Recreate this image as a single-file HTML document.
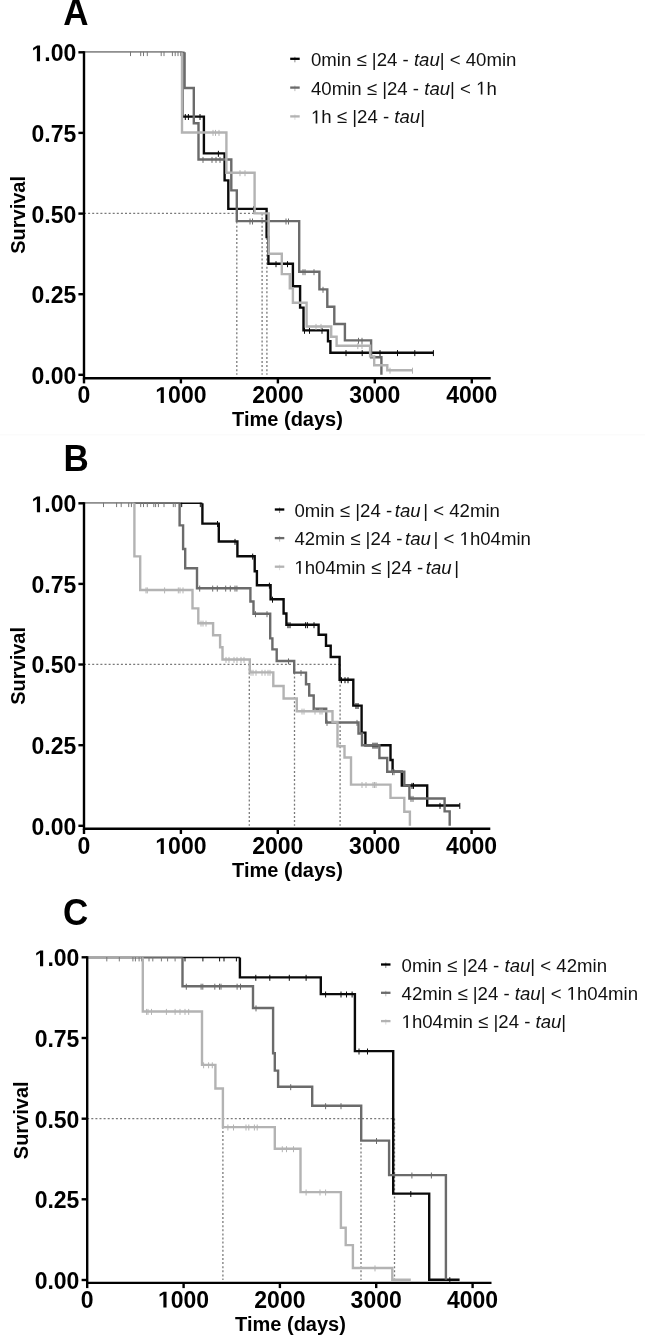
<!DOCTYPE html>
<html><head><meta charset="utf-8"><style>
html,body{margin:0;padding:0;background:#fff;}
body{width:645px;height:1341px;overflow:hidden;}
svg{display:block;filter:grayscale(1);}
.tl{font-family:"Liberation Sans",sans-serif;font-weight:bold;font-size:23px;fill:#000;}
.at{font-family:"Liberation Sans",sans-serif;font-weight:bold;font-size:20px;fill:#000;}
.pl{font-family:"Liberation Sans",sans-serif;font-weight:bold;font-size:35px;fill:#000;}
.lg{font-family:"Liberation Sans",sans-serif;font-size:18.6px;fill:#111;}
.lg tspan.i{font-style:italic;}
</style></head><body>
<svg width="645" height="1341" viewBox="0 0 645 1341">
<rect width="645" height="1341" fill="#fff"/>
<line x1="0" y1="434.8" x2="645" y2="434.8" stroke="#f9f9f9" stroke-width="1"/>
<line x1="84.0" y1="213.4" x2="267.5" y2="213.4" stroke="#7a7a7a" stroke-width="1.3" stroke-dasharray="2 2.1"/>
<line x1="236.8" y1="213.4" x2="236.8" y2="374.8" stroke="#7a7a7a" stroke-width="1.3" stroke-dasharray="2 2.1"/>
<line x1="262.1" y1="213.4" x2="262.1" y2="374.8" stroke="#7a7a7a" stroke-width="1.3" stroke-dasharray="2 2.1"/>
<line x1="266.9" y1="213.4" x2="266.9" y2="374.8" stroke="#7a7a7a" stroke-width="1.3" stroke-dasharray="2 2.1"/>
<line x1="84.0" y1="52.3" x2="182.3" y2="52.3" stroke="#0a0a0a" stroke-width="1.5"/>
<line x1="84.0" y1="52.3" x2="184.6" y2="52.3" stroke="#6b6b6b" stroke-width="1.5"/>
<line x1="84.0" y1="52.3" x2="182.0" y2="52.3" stroke="#a8a8a8" stroke-width="1.5"/>
<line x1="130.5" y1="51.7" x2="130.5" y2="56.1" stroke="#777" stroke-width="1.0"/>
<line x1="140.7" y1="51.7" x2="140.7" y2="56.1" stroke="#777" stroke-width="1.0"/>
<line x1="143.5" y1="51.7" x2="143.5" y2="56.1" stroke="#777" stroke-width="1.0"/>
<line x1="147.3" y1="51.7" x2="147.3" y2="56.1" stroke="#777" stroke-width="1.0"/>
<line x1="161.2" y1="51.7" x2="161.2" y2="56.1" stroke="#777" stroke-width="1.0"/>
<line x1="164.0" y1="51.7" x2="164.0" y2="56.1" stroke="#777" stroke-width="1.0"/>
<line x1="172.4" y1="51.7" x2="172.4" y2="56.1" stroke="#777" stroke-width="1.0"/>
<line x1="175.2" y1="51.7" x2="175.2" y2="56.1" stroke="#777" stroke-width="1.0"/>
<line x1="178.0" y1="51.7" x2="178.0" y2="56.1" stroke="#777" stroke-width="1.0"/>
<line x1="180.7" y1="51.7" x2="180.7" y2="56.1" stroke="#777" stroke-width="1.0"/>
<path d="M182.3 52.3V116.6H203.9V153.4H224.6V180.4H228.3V208.9H266.6V237.0H268.4V263.8H292.9V286.2H300.1V307.6H303.5V330.4H328.0V341.3H330.4V352.7H433.5V352.7" fill="none" stroke="#0a0a0a" stroke-width="2.4" stroke-linejoin="miter" stroke-linecap="butt"/>
<line x1="185.3" y1="114.0" x2="185.3" y2="120.0" stroke="#0a0a0a" stroke-width="1.0"/>
<line x1="188.4" y1="114.0" x2="188.4" y2="120.0" stroke="#0a0a0a" stroke-width="1.0"/>
<line x1="200.0" y1="114.0" x2="200.0" y2="120.0" stroke="#0a0a0a" stroke-width="1.0"/>
<line x1="218.4" y1="150.8" x2="218.4" y2="156.8" stroke="#0a0a0a" stroke-width="1.0"/>
<line x1="253.5" y1="206.3" x2="253.5" y2="212.3" stroke="#0a0a0a" stroke-width="1.0"/>
<line x1="276.0" y1="261.2" x2="276.0" y2="267.2" stroke="#0a0a0a" stroke-width="1.0"/>
<line x1="287.5" y1="261.2" x2="287.5" y2="267.2" stroke="#0a0a0a" stroke-width="1.0"/>
<line x1="304.5" y1="327.8" x2="304.5" y2="333.8" stroke="#0a0a0a" stroke-width="1.0"/>
<line x1="309.5" y1="327.8" x2="309.5" y2="333.8" stroke="#0a0a0a" stroke-width="1.0"/>
<line x1="322.0" y1="327.8" x2="322.0" y2="333.8" stroke="#0a0a0a" stroke-width="1.0"/>
<line x1="346.0" y1="350.1" x2="346.0" y2="356.1" stroke="#0a0a0a" stroke-width="1.0"/>
<line x1="362.2" y1="350.1" x2="362.2" y2="356.1" stroke="#0a0a0a" stroke-width="1.0"/>
<line x1="380.0" y1="350.1" x2="380.0" y2="356.1" stroke="#0a0a0a" stroke-width="1.0"/>
<line x1="397.5" y1="350.1" x2="397.5" y2="356.1" stroke="#0a0a0a" stroke-width="1.0"/>
<line x1="414.8" y1="350.1" x2="414.8" y2="356.1" stroke="#0a0a0a" stroke-width="1.0"/>
<line x1="433.4" y1="350.1" x2="433.4" y2="356.1" stroke="#0a0a0a" stroke-width="1.0"/>
<path d="M184.6 52.3V88.0H193.8V123.3H198.5V159.5H231.3V190.4H236.8V221.1H299.2V271.8H319.4V289.4H327.3V306.7H334.3V324.0H344.9V340.4H371.1V357.3H381.4V374.8" fill="none" stroke="#6b6b6b" stroke-width="2.4" stroke-linejoin="miter" stroke-linecap="butt"/>
<line x1="203.0" y1="156.9" x2="203.0" y2="162.9" stroke="#6b6b6b" stroke-width="1.0"/>
<line x1="212.0" y1="156.9" x2="212.0" y2="162.9" stroke="#6b6b6b" stroke-width="1.0"/>
<line x1="216.0" y1="156.9" x2="216.0" y2="162.9" stroke="#6b6b6b" stroke-width="1.0"/>
<line x1="220.0" y1="156.9" x2="220.0" y2="162.9" stroke="#6b6b6b" stroke-width="1.0"/>
<line x1="250.0" y1="218.5" x2="250.0" y2="224.5" stroke="#6b6b6b" stroke-width="1.0"/>
<line x1="252.5" y1="218.5" x2="252.5" y2="224.5" stroke="#6b6b6b" stroke-width="1.0"/>
<line x1="286.0" y1="218.5" x2="286.0" y2="224.5" stroke="#6b6b6b" stroke-width="1.0"/>
<line x1="288.5" y1="218.5" x2="288.5" y2="224.5" stroke="#6b6b6b" stroke-width="1.0"/>
<line x1="303.0" y1="269.2" x2="303.0" y2="275.2" stroke="#6b6b6b" stroke-width="1.0"/>
<line x1="305.0" y1="269.2" x2="305.0" y2="275.2" stroke="#6b6b6b" stroke-width="1.0"/>
<line x1="314.0" y1="269.2" x2="314.0" y2="275.2" stroke="#6b6b6b" stroke-width="1.0"/>
<line x1="323.0" y1="286.8" x2="323.0" y2="292.8" stroke="#6b6b6b" stroke-width="1.0"/>
<line x1="358.5" y1="337.8" x2="358.5" y2="343.8" stroke="#6b6b6b" stroke-width="1.0"/>
<line x1="362.0" y1="337.8" x2="362.0" y2="343.8" stroke="#6b6b6b" stroke-width="1.0"/>
<path d="M182.0 52.3V132.5H226.4V172.8H254.6V213.4H268.7V253.7H281.8V274.1H289.8V288.4H292.9V302.8H306.6V326.5H331.2V336.7H336.6V345.7H370.1V356.4H374.2V365.3H387.3V370.3H412.5V370.3" fill="none" stroke="#b3b3b3" stroke-width="2.4" stroke-linejoin="miter" stroke-linecap="butt"/>
<line x1="213.0" y1="129.9" x2="213.0" y2="135.9" stroke="#b3b3b3" stroke-width="1.0"/>
<line x1="215.5" y1="129.9" x2="215.5" y2="135.9" stroke="#b3b3b3" stroke-width="1.0"/>
<line x1="219.0" y1="129.9" x2="219.0" y2="135.9" stroke="#b3b3b3" stroke-width="1.0"/>
<line x1="240.0" y1="170.2" x2="240.0" y2="176.2" stroke="#b3b3b3" stroke-width="1.0"/>
<line x1="245.0" y1="170.2" x2="245.0" y2="176.2" stroke="#b3b3b3" stroke-width="1.0"/>
<line x1="316.0" y1="323.9" x2="316.0" y2="329.9" stroke="#b3b3b3" stroke-width="1.0"/>
<line x1="321.0" y1="323.9" x2="321.0" y2="329.9" stroke="#b3b3b3" stroke-width="1.0"/>
<line x1="357.8" y1="343.1" x2="357.8" y2="349.1" stroke="#b3b3b3" stroke-width="1.0"/>
<line x1="362.0" y1="343.1" x2="362.0" y2="349.1" stroke="#b3b3b3" stroke-width="1.0"/>
<line x1="390.0" y1="367.7" x2="390.0" y2="373.7" stroke="#b3b3b3" stroke-width="1.0"/>
<line x1="412.5" y1="367.7" x2="412.5" y2="373.7" stroke="#b3b3b3" stroke-width="1.0"/>
<path d="M84.0 51.3 V378.2 H490.7" fill="none" stroke="#000" stroke-width="2.4" stroke-linecap="butt" stroke-linejoin="miter"/>
<line x1="78.4" y1="374.8" x2="84.0" y2="374.8" stroke="#000" stroke-width="2.4"/>
<text x="76.3" y="383.7" class="tl" text-anchor="end">0.00</text>
<line x1="78.4" y1="294.2" x2="84.0" y2="294.2" stroke="#000" stroke-width="2.4"/>
<text x="76.3" y="303.1" class="tl" text-anchor="end">0.25</text>
<line x1="78.4" y1="213.6" x2="84.0" y2="213.6" stroke="#000" stroke-width="2.4"/>
<text x="76.3" y="222.5" class="tl" text-anchor="end">0.50</text>
<line x1="78.4" y1="132.9" x2="84.0" y2="132.9" stroke="#000" stroke-width="2.4"/>
<text x="76.3" y="141.8" class="tl" text-anchor="end">0.75</text>
<line x1="78.4" y1="52.3" x2="84.0" y2="52.3" stroke="#000" stroke-width="2.4"/>
<text x="76.3" y="61.2" class="tl" text-anchor="end"> .00</text>
<line x1="84.0" y1="378.2" x2="84.0" y2="383.4" stroke="#000" stroke-width="2.4"/>
<text x="84.0" y="403.1" class="tl" text-anchor="middle">0</text>
<line x1="180.9" y1="378.2" x2="180.9" y2="383.4" stroke="#000" stroke-width="2.4"/>
<text x="180.9" y="403.1" class="tl" text-anchor="middle"> 000</text>
<line x1="277.9" y1="378.2" x2="277.9" y2="383.4" stroke="#000" stroke-width="2.4"/>
<text x="277.9" y="403.1" class="tl" text-anchor="middle">2000</text>
<line x1="374.8" y1="378.2" x2="374.8" y2="383.4" stroke="#000" stroke-width="2.4"/>
<text x="374.8" y="403.1" class="tl" text-anchor="middle">3000</text>
<line x1="471.8" y1="378.2" x2="471.8" y2="383.4" stroke="#000" stroke-width="2.4"/>
<text x="471.8" y="403.1" class="tl" text-anchor="middle">4000</text>
<text x="287.5" y="425.5" class="at" text-anchor="middle">Time (days)</text>
<text class="at" text-anchor="middle" transform="translate(24.8 214.9) rotate(-90)">Survival</text>
<text class="pl" transform="translate(63.2 24.6) scale(1 1.07)">A</text>
<line x1="290.2" y1="58.8" x2="299.7" y2="58.8" stroke="#000" stroke-width="2.3"/>
<line x1="294.9" y1="56.8" x2="294.9" y2="62.3" stroke="#000" stroke-width="0.8" stroke-opacity="0.6"/>
<text x="311.0" y="65.8" class="lg">0min ≤ |24 - <tspan class="i">tau</tspan>| &lt; 40min</text>
<line x1="290.2" y1="87.6" x2="299.7" y2="87.6" stroke="#6b6b6b" stroke-width="2.3"/>
<line x1="294.9" y1="85.6" x2="294.9" y2="91.1" stroke="#6b6b6b" stroke-width="0.8" stroke-opacity="0.6"/>
<text x="311.0" y="94.6" class="lg">40min ≤ |24 - <tspan class="i">tau</tspan>| &lt;  h</text>
<line x1="290.2" y1="116.4" x2="299.7" y2="116.4" stroke="#b3b3b3" stroke-width="2.3"/>
<line x1="294.9" y1="114.4" x2="294.9" y2="119.9" stroke="#b3b3b3" stroke-width="0.8" stroke-opacity="0.6"/>
<text x="311.0" y="123.4" class="lg"> h ≤ |24 - <tspan class="i">tau</tspan>|</text>
<line x1="84.0" y1="664.3" x2="340.6" y2="664.3" stroke="#7a7a7a" stroke-width="1.3" stroke-dasharray="2 2.1"/>
<line x1="249.3" y1="664.3" x2="249.3" y2="825.8" stroke="#7a7a7a" stroke-width="1.3" stroke-dasharray="2 2.1"/>
<line x1="294.5" y1="664.3" x2="294.5" y2="825.8" stroke="#7a7a7a" stroke-width="1.3" stroke-dasharray="2 2.1"/>
<line x1="340.1" y1="664.3" x2="340.1" y2="825.8" stroke="#7a7a7a" stroke-width="1.3" stroke-dasharray="2 2.1"/>
<line x1="84.0" y1="503.3" x2="202.4" y2="503.3" stroke="#0a0a0a" stroke-width="1.5"/>
<line x1="84.0" y1="503.3" x2="179.6" y2="503.3" stroke="#6b6b6b" stroke-width="1.5"/>
<line x1="84.0" y1="503.3" x2="134.4" y2="503.3" stroke="#a8a8a8" stroke-width="1.5"/>
<line x1="103.5" y1="502.7" x2="103.5" y2="507.1" stroke="#777" stroke-width="1.0"/>
<line x1="116.6" y1="502.7" x2="116.6" y2="507.1" stroke="#777" stroke-width="1.0"/>
<line x1="121.2" y1="502.7" x2="121.2" y2="507.1" stroke="#777" stroke-width="1.0"/>
<line x1="128.7" y1="502.7" x2="128.7" y2="507.1" stroke="#777" stroke-width="1.0"/>
<line x1="131.4" y1="502.7" x2="131.4" y2="507.1" stroke="#777" stroke-width="1.0"/>
<line x1="140.7" y1="502.7" x2="140.7" y2="507.1" stroke="#777" stroke-width="1.0"/>
<line x1="143.5" y1="502.7" x2="143.5" y2="507.1" stroke="#777" stroke-width="1.0"/>
<line x1="147.3" y1="502.7" x2="147.3" y2="507.1" stroke="#777" stroke-width="1.0"/>
<line x1="153.8" y1="502.7" x2="153.8" y2="507.1" stroke="#777" stroke-width="1.0"/>
<line x1="155.6" y1="502.7" x2="155.6" y2="507.1" stroke="#777" stroke-width="1.0"/>
<line x1="158.4" y1="502.7" x2="158.4" y2="507.1" stroke="#777" stroke-width="1.0"/>
<line x1="164.0" y1="502.7" x2="164.0" y2="507.1" stroke="#777" stroke-width="1.0"/>
<line x1="173.3" y1="502.7" x2="173.3" y2="507.1" stroke="#777" stroke-width="1.0"/>
<line x1="175.2" y1="502.7" x2="175.2" y2="507.1" stroke="#777" stroke-width="1.0"/>
<line x1="181.7" y1="502.7" x2="181.7" y2="507.1" stroke="#0a0a0a" stroke-width="1.0"/>
<line x1="200.3" y1="502.7" x2="200.3" y2="507.1" stroke="#0a0a0a" stroke-width="1.0"/>
<path d="M202.4 503.3V523.6H218.8V541.5H237.4V556.2H254.7V571.2H256.9V585.3H270.6V599.3H283.6V613.5H286.4V624.8H318.6V634.7H326.0V645.8H330.7V657.0H339.6V679.8H353.3V705.6H361.6V732.6H365.4V745.3H390.5V760.0H392.6V771.8H401.8V785.5H427.2V805.5H459.8V805.5" fill="none" stroke="#0a0a0a" stroke-width="2.4" stroke-linejoin="miter" stroke-linecap="butt"/>
<line x1="217.5" y1="521.0" x2="217.5" y2="527.0" stroke="#0a0a0a" stroke-width="1.0"/>
<line x1="235.0" y1="538.9" x2="235.0" y2="544.9" stroke="#0a0a0a" stroke-width="1.0"/>
<line x1="252.7" y1="553.6" x2="252.7" y2="559.6" stroke="#0a0a0a" stroke-width="1.0"/>
<line x1="269.4" y1="582.7" x2="269.4" y2="588.7" stroke="#0a0a0a" stroke-width="1.0"/>
<line x1="272.5" y1="596.7" x2="272.5" y2="602.7" stroke="#0a0a0a" stroke-width="1.0"/>
<line x1="288.0" y1="622.2" x2="288.0" y2="628.2" stroke="#0a0a0a" stroke-width="1.0"/>
<line x1="290.0" y1="622.2" x2="290.0" y2="628.2" stroke="#0a0a0a" stroke-width="1.0"/>
<line x1="305.6" y1="622.2" x2="305.6" y2="628.2" stroke="#0a0a0a" stroke-width="1.0"/>
<line x1="307.4" y1="622.2" x2="307.4" y2="628.2" stroke="#0a0a0a" stroke-width="1.0"/>
<line x1="314.0" y1="622.2" x2="314.0" y2="628.2" stroke="#0a0a0a" stroke-width="1.0"/>
<line x1="341.5" y1="677.2" x2="341.5" y2="683.2" stroke="#0a0a0a" stroke-width="1.0"/>
<line x1="345.0" y1="677.2" x2="345.0" y2="683.2" stroke="#0a0a0a" stroke-width="1.0"/>
<line x1="348.0" y1="677.2" x2="348.0" y2="683.2" stroke="#0a0a0a" stroke-width="1.0"/>
<line x1="356.0" y1="703.0" x2="356.0" y2="709.0" stroke="#0a0a0a" stroke-width="1.0"/>
<line x1="358.0" y1="703.0" x2="358.0" y2="709.0" stroke="#0a0a0a" stroke-width="1.0"/>
<line x1="373.0" y1="742.7" x2="373.0" y2="748.7" stroke="#0a0a0a" stroke-width="1.0"/>
<line x1="375.0" y1="742.7" x2="375.0" y2="748.7" stroke="#0a0a0a" stroke-width="1.0"/>
<line x1="377.0" y1="742.7" x2="377.0" y2="748.7" stroke="#0a0a0a" stroke-width="1.0"/>
<line x1="412.0" y1="782.9" x2="412.0" y2="788.9" stroke="#0a0a0a" stroke-width="1.0"/>
<line x1="413.5" y1="782.9" x2="413.5" y2="788.9" stroke="#0a0a0a" stroke-width="1.0"/>
<line x1="440.0" y1="802.9" x2="440.0" y2="808.9" stroke="#0a0a0a" stroke-width="1.0"/>
<line x1="459.8" y1="802.9" x2="459.8" y2="808.9" stroke="#0a0a0a" stroke-width="1.0"/>
<path d="M179.6 503.3V525.4H183.1V549.0H185.2V568.2H197.0V588.2H250.4V601.5H253.5V613.8H270.2V638.4H272.4V649.4H276.7V661.0H294.2V672.6H306.0V684.2H309.2V695.5H313.7V708.7H326.2V722.5H358.5V733.5H362.0V745.3H379.4V758.0H387.2V771.8H404.3V785.5H409.4V798.5H444.6V811.4H449.7V825.8" fill="none" stroke="#6b6b6b" stroke-width="2.4" stroke-linejoin="miter" stroke-linecap="butt"/>
<line x1="199.7" y1="585.6" x2="199.7" y2="591.6" stroke="#6b6b6b" stroke-width="1.0"/>
<line x1="212.7" y1="585.6" x2="212.7" y2="591.6" stroke="#6b6b6b" stroke-width="1.0"/>
<line x1="217.3" y1="585.6" x2="217.3" y2="591.6" stroke="#6b6b6b" stroke-width="1.0"/>
<line x1="225.7" y1="585.6" x2="225.7" y2="591.6" stroke="#6b6b6b" stroke-width="1.0"/>
<line x1="230.3" y1="585.6" x2="230.3" y2="591.6" stroke="#6b6b6b" stroke-width="1.0"/>
<line x1="235.0" y1="585.6" x2="235.0" y2="591.6" stroke="#6b6b6b" stroke-width="1.0"/>
<line x1="236.9" y1="585.6" x2="236.9" y2="591.6" stroke="#6b6b6b" stroke-width="1.0"/>
<line x1="255.5" y1="611.2" x2="255.5" y2="617.2" stroke="#6b6b6b" stroke-width="1.0"/>
<line x1="267.0" y1="611.2" x2="267.0" y2="617.2" stroke="#6b6b6b" stroke-width="1.0"/>
<line x1="288.5" y1="658.4" x2="288.5" y2="664.4" stroke="#6b6b6b" stroke-width="1.0"/>
<line x1="301.0" y1="670.0" x2="301.0" y2="676.0" stroke="#6b6b6b" stroke-width="1.0"/>
<line x1="327.0" y1="719.9" x2="327.0" y2="725.9" stroke="#6b6b6b" stroke-width="1.0"/>
<line x1="357.0" y1="719.9" x2="357.0" y2="725.9" stroke="#6b6b6b" stroke-width="1.0"/>
<line x1="392.5" y1="769.2" x2="392.5" y2="775.2" stroke="#6b6b6b" stroke-width="1.0"/>
<line x1="394.0" y1="769.2" x2="394.0" y2="775.2" stroke="#6b6b6b" stroke-width="1.0"/>
<line x1="411.0" y1="795.9" x2="411.0" y2="801.9" stroke="#6b6b6b" stroke-width="1.0"/>
<line x1="413.0" y1="795.9" x2="413.0" y2="801.9" stroke="#6b6b6b" stroke-width="1.0"/>
<path d="M134.4 503.3V556.4H140.2V590.0H192.5V608.4H198.3V623.2H213.1V635.3H220.1V647.2H222.5V659.5H249.8V672.4H273.3V686.0H283.6V698.5H296.8V711.2H332.5V722.0H337.5V746.2H344.5V757.5H351.0V784.6H390.5V797.9H404.3V811.7H409.9V825.8" fill="none" stroke="#b3b3b3" stroke-width="2.4" stroke-linejoin="miter" stroke-linecap="butt"/>
<line x1="146.0" y1="587.4" x2="146.0" y2="593.4" stroke="#b3b3b3" stroke-width="1.0"/>
<line x1="147.3" y1="587.4" x2="147.3" y2="593.4" stroke="#b3b3b3" stroke-width="1.0"/>
<line x1="164.6" y1="587.4" x2="164.6" y2="593.4" stroke="#b3b3b3" stroke-width="1.0"/>
<line x1="178.3" y1="587.4" x2="178.3" y2="593.4" stroke="#b3b3b3" stroke-width="1.0"/>
<line x1="180.0" y1="587.4" x2="180.0" y2="593.4" stroke="#b3b3b3" stroke-width="1.0"/>
<line x1="183.0" y1="587.4" x2="183.0" y2="593.4" stroke="#b3b3b3" stroke-width="1.0"/>
<line x1="201.0" y1="620.6" x2="201.0" y2="626.6" stroke="#b3b3b3" stroke-width="1.0"/>
<line x1="203.0" y1="620.6" x2="203.0" y2="626.6" stroke="#b3b3b3" stroke-width="1.0"/>
<line x1="206.0" y1="620.6" x2="206.0" y2="626.6" stroke="#b3b3b3" stroke-width="1.0"/>
<line x1="226.0" y1="656.9" x2="226.0" y2="662.9" stroke="#b3b3b3" stroke-width="1.0"/>
<line x1="229.0" y1="656.9" x2="229.0" y2="662.9" stroke="#b3b3b3" stroke-width="1.0"/>
<line x1="234.0" y1="656.9" x2="234.0" y2="662.9" stroke="#b3b3b3" stroke-width="1.0"/>
<line x1="237.0" y1="656.9" x2="237.0" y2="662.9" stroke="#b3b3b3" stroke-width="1.0"/>
<line x1="241.0" y1="656.9" x2="241.0" y2="662.9" stroke="#b3b3b3" stroke-width="1.0"/>
<line x1="244.0" y1="656.9" x2="244.0" y2="662.9" stroke="#b3b3b3" stroke-width="1.0"/>
<line x1="251.0" y1="669.8" x2="251.0" y2="675.8" stroke="#b3b3b3" stroke-width="1.0"/>
<line x1="253.0" y1="669.8" x2="253.0" y2="675.8" stroke="#b3b3b3" stroke-width="1.0"/>
<line x1="256.0" y1="669.8" x2="256.0" y2="675.8" stroke="#b3b3b3" stroke-width="1.0"/>
<line x1="262.0" y1="669.8" x2="262.0" y2="675.8" stroke="#b3b3b3" stroke-width="1.0"/>
<line x1="265.0" y1="669.8" x2="265.0" y2="675.8" stroke="#b3b3b3" stroke-width="1.0"/>
<line x1="268.0" y1="669.8" x2="268.0" y2="675.8" stroke="#b3b3b3" stroke-width="1.0"/>
<line x1="270.0" y1="669.8" x2="270.0" y2="675.8" stroke="#b3b3b3" stroke-width="1.0"/>
<line x1="302.0" y1="708.6" x2="302.0" y2="714.6" stroke="#b3b3b3" stroke-width="1.0"/>
<line x1="304.0" y1="708.6" x2="304.0" y2="714.6" stroke="#b3b3b3" stroke-width="1.0"/>
<line x1="315.0" y1="708.6" x2="315.0" y2="714.6" stroke="#b3b3b3" stroke-width="1.0"/>
<line x1="320.0" y1="708.6" x2="320.0" y2="714.6" stroke="#b3b3b3" stroke-width="1.0"/>
<line x1="322.0" y1="708.6" x2="322.0" y2="714.6" stroke="#b3b3b3" stroke-width="1.0"/>
<line x1="362.0" y1="782.0" x2="362.0" y2="788.0" stroke="#b3b3b3" stroke-width="1.0"/>
<line x1="366.0" y1="782.0" x2="366.0" y2="788.0" stroke="#b3b3b3" stroke-width="1.0"/>
<line x1="373.0" y1="782.0" x2="373.0" y2="788.0" stroke="#b3b3b3" stroke-width="1.0"/>
<line x1="374.5" y1="782.0" x2="374.5" y2="788.0" stroke="#b3b3b3" stroke-width="1.0"/>
<line x1="376.0" y1="782.0" x2="376.0" y2="788.0" stroke="#b3b3b3" stroke-width="1.0"/>
<path d="M84.0 502.3 V828.8 H490.3" fill="none" stroke="#000" stroke-width="2.4" stroke-linecap="butt" stroke-linejoin="miter"/>
<line x1="78.4" y1="825.8" x2="84.0" y2="825.8" stroke="#000" stroke-width="2.4"/>
<text x="76.3" y="834.7" class="tl" text-anchor="end">0.00</text>
<line x1="78.4" y1="745.2" x2="84.0" y2="745.2" stroke="#000" stroke-width="2.4"/>
<text x="76.3" y="754.1" class="tl" text-anchor="end">0.25</text>
<line x1="78.4" y1="664.5" x2="84.0" y2="664.5" stroke="#000" stroke-width="2.4"/>
<text x="76.3" y="673.4" class="tl" text-anchor="end">0.50</text>
<line x1="78.4" y1="583.9" x2="84.0" y2="583.9" stroke="#000" stroke-width="2.4"/>
<text x="76.3" y="592.8" class="tl" text-anchor="end">0.75</text>
<line x1="78.4" y1="503.3" x2="84.0" y2="503.3" stroke="#000" stroke-width="2.4"/>
<text x="76.3" y="512.2" class="tl" text-anchor="end"> .00</text>
<line x1="84.0" y1="828.8" x2="84.0" y2="834.0" stroke="#000" stroke-width="2.4"/>
<text x="84.0" y="854.1" class="tl" text-anchor="middle">0</text>
<line x1="180.9" y1="828.8" x2="180.9" y2="834.0" stroke="#000" stroke-width="2.4"/>
<text x="180.9" y="854.1" class="tl" text-anchor="middle"> 000</text>
<line x1="277.8" y1="828.8" x2="277.8" y2="834.0" stroke="#000" stroke-width="2.4"/>
<text x="277.8" y="854.1" class="tl" text-anchor="middle">2000</text>
<line x1="374.7" y1="828.8" x2="374.7" y2="834.0" stroke="#000" stroke-width="2.4"/>
<text x="374.7" y="854.1" class="tl" text-anchor="middle">3000</text>
<line x1="471.6" y1="828.8" x2="471.6" y2="834.0" stroke="#000" stroke-width="2.4"/>
<text x="471.6" y="854.1" class="tl" text-anchor="middle">4000</text>
<text x="287.5" y="876.5" class="at" text-anchor="middle">Time (days)</text>
<text class="at" text-anchor="middle" transform="translate(24.8 665.9) rotate(-90)">Survival</text>
<text class="pl" transform="translate(63.6 470.8) scale(1 1.07)">B</text>
<line x1="274.8" y1="509.5" x2="284.3" y2="509.5" stroke="#000" stroke-width="2.3"/>
<line x1="279.6" y1="507.5" x2="279.6" y2="513.0" stroke="#000" stroke-width="0.8" stroke-opacity="0.6"/>
<text x="294.4" y="516.5" class="lg">0min ≤ |24 -<tspan class="i" dx="2.6">tau</tspan><tspan dx="2.6">|</tspan> &lt; 42min</text>
<line x1="274.8" y1="538.1" x2="284.3" y2="538.1" stroke="#6b6b6b" stroke-width="2.3"/>
<line x1="279.6" y1="536.1" x2="279.6" y2="541.6" stroke="#6b6b6b" stroke-width="0.8" stroke-opacity="0.6"/>
<text x="294.4" y="545.1" class="lg">42min ≤ |24 -<tspan class="i" dx="2.6">tau</tspan><tspan dx="2.6">|</tspan> &lt;  h04min</text>
<line x1="274.8" y1="566.7" x2="284.3" y2="566.7" stroke="#b3b3b3" stroke-width="2.3"/>
<line x1="279.6" y1="564.7" x2="279.6" y2="570.2" stroke="#b3b3b3" stroke-width="0.8" stroke-opacity="0.6"/>
<text x="294.4" y="573.7" class="lg"> h04min ≤ |24 -<tspan class="i" dx="2.6">tau</tspan><tspan dx="2.6">|</tspan></text>
<line x1="87.2" y1="1118.6" x2="395.0" y2="1118.6" stroke="#7a7a7a" stroke-width="1.3" stroke-dasharray="2 2.1"/>
<line x1="222.9" y1="1118.6" x2="222.9" y2="1280.0" stroke="#7a7a7a" stroke-width="1.3" stroke-dasharray="2 2.1"/>
<line x1="361.0" y1="1118.6" x2="361.0" y2="1280.0" stroke="#7a7a7a" stroke-width="1.3" stroke-dasharray="2 2.1"/>
<line x1="394.5" y1="1118.6" x2="394.5" y2="1280.0" stroke="#7a7a7a" stroke-width="1.3" stroke-dasharray="2 2.1"/>
<line x1="87.2" y1="957.6" x2="239.9" y2="957.6" stroke="#0a0a0a" stroke-width="1.5"/>
<line x1="87.2" y1="957.6" x2="182.5" y2="957.6" stroke="#6b6b6b" stroke-width="1.5"/>
<line x1="87.2" y1="957.6" x2="142.8" y2="957.6" stroke="#a8a8a8" stroke-width="1.5"/>
<line x1="106.8" y1="957.0" x2="106.8" y2="961.4" stroke="#777" stroke-width="1.0"/>
<line x1="119.3" y1="957.0" x2="119.3" y2="961.4" stroke="#777" stroke-width="1.0"/>
<line x1="132.9" y1="957.0" x2="132.9" y2="961.4" stroke="#777" stroke-width="1.0"/>
<line x1="135.4" y1="957.0" x2="135.4" y2="961.4" stroke="#777" stroke-width="1.0"/>
<line x1="139.1" y1="957.0" x2="139.1" y2="961.4" stroke="#777" stroke-width="1.0"/>
<line x1="141.6" y1="957.0" x2="141.6" y2="961.4" stroke="#777" stroke-width="1.0"/>
<line x1="149.0" y1="957.0" x2="149.0" y2="961.4" stroke="#777" stroke-width="1.0"/>
<line x1="152.8" y1="957.0" x2="152.8" y2="961.4" stroke="#777" stroke-width="1.0"/>
<line x1="161.4" y1="957.0" x2="161.4" y2="961.4" stroke="#777" stroke-width="1.0"/>
<line x1="167.6" y1="957.0" x2="167.6" y2="961.4" stroke="#777" stroke-width="1.0"/>
<line x1="175.1" y1="957.0" x2="175.1" y2="961.4" stroke="#777" stroke-width="1.0"/>
<line x1="185.0" y1="957.0" x2="185.0" y2="961.4" stroke="#0a0a0a" stroke-width="1.0"/>
<line x1="202.9" y1="957.0" x2="202.9" y2="961.4" stroke="#0a0a0a" stroke-width="1.0"/>
<line x1="219.6" y1="957.0" x2="219.6" y2="961.4" stroke="#0a0a0a" stroke-width="1.0"/>
<line x1="224.0" y1="957.0" x2="224.0" y2="961.4" stroke="#0a0a0a" stroke-width="1.0"/>
<line x1="236.4" y1="957.0" x2="236.4" y2="961.4" stroke="#0a0a0a" stroke-width="1.0"/>
<path d="M239.9 957.6V977.4H320.8V994.1H354.9V1051.1H393.2V1193.6H429.2V1279.8H459.6V1279.8" fill="none" stroke="#0a0a0a" stroke-width="2.4" stroke-linejoin="miter" stroke-linecap="butt"/>
<line x1="255.8" y1="974.8" x2="255.8" y2="980.8" stroke="#0a0a0a" stroke-width="1.0"/>
<line x1="269.8" y1="974.8" x2="269.8" y2="980.8" stroke="#0a0a0a" stroke-width="1.0"/>
<line x1="289.3" y1="974.8" x2="289.3" y2="980.8" stroke="#0a0a0a" stroke-width="1.0"/>
<line x1="306.1" y1="974.8" x2="306.1" y2="980.8" stroke="#0a0a0a" stroke-width="1.0"/>
<line x1="325.6" y1="991.5" x2="325.6" y2="997.5" stroke="#0a0a0a" stroke-width="1.0"/>
<line x1="341.0" y1="991.5" x2="341.0" y2="997.5" stroke="#0a0a0a" stroke-width="1.0"/>
<line x1="346.5" y1="991.5" x2="346.5" y2="997.5" stroke="#0a0a0a" stroke-width="1.0"/>
<line x1="352.1" y1="991.5" x2="352.1" y2="997.5" stroke="#0a0a0a" stroke-width="1.0"/>
<line x1="359.0" y1="1048.5" x2="359.0" y2="1054.5" stroke="#0a0a0a" stroke-width="1.0"/>
<line x1="367.5" y1="1048.5" x2="367.5" y2="1054.5" stroke="#0a0a0a" stroke-width="1.0"/>
<line x1="410.8" y1="1191.0" x2="410.8" y2="1197.0" stroke="#0a0a0a" stroke-width="1.0"/>
<line x1="449.8" y1="1277.2" x2="449.8" y2="1283.2" stroke="#0a0a0a" stroke-width="1.0"/>
<path d="M182.5 957.6V986.3H253.0V1008.0H273.1V1053.3H274.8V1070.6H278.1V1086.8H312.2V1105.8H361.2V1140.6H389.1V1175.1H445.9V1279.8" fill="none" stroke="#6b6b6b" stroke-width="2.4" stroke-linejoin="miter" stroke-linecap="butt"/>
<line x1="186.3" y1="983.7" x2="186.3" y2="989.7" stroke="#6b6b6b" stroke-width="1.0"/>
<line x1="201.1" y1="983.7" x2="201.1" y2="989.7" stroke="#6b6b6b" stroke-width="1.0"/>
<line x1="202.8" y1="983.7" x2="202.8" y2="989.7" stroke="#6b6b6b" stroke-width="1.0"/>
<line x1="214.8" y1="983.7" x2="214.8" y2="989.7" stroke="#6b6b6b" stroke-width="1.0"/>
<line x1="219.5" y1="983.7" x2="219.5" y2="989.7" stroke="#6b6b6b" stroke-width="1.0"/>
<line x1="221.0" y1="983.7" x2="221.0" y2="989.7" stroke="#6b6b6b" stroke-width="1.0"/>
<line x1="237.1" y1="983.7" x2="237.1" y2="989.7" stroke="#6b6b6b" stroke-width="1.0"/>
<line x1="240.5" y1="983.7" x2="240.5" y2="989.7" stroke="#6b6b6b" stroke-width="1.0"/>
<line x1="256.0" y1="1005.4" x2="256.0" y2="1011.4" stroke="#6b6b6b" stroke-width="1.0"/>
<line x1="290.7" y1="1084.2" x2="290.7" y2="1090.2" stroke="#6b6b6b" stroke-width="1.0"/>
<line x1="325.6" y1="1103.2" x2="325.6" y2="1109.2" stroke="#6b6b6b" stroke-width="1.0"/>
<line x1="341.0" y1="1103.2" x2="341.0" y2="1109.2" stroke="#6b6b6b" stroke-width="1.0"/>
<line x1="376.5" y1="1138.0" x2="376.5" y2="1144.0" stroke="#6b6b6b" stroke-width="1.0"/>
<line x1="411.9" y1="1172.5" x2="411.9" y2="1178.5" stroke="#6b6b6b" stroke-width="1.0"/>
<line x1="431.4" y1="1172.5" x2="431.4" y2="1178.5" stroke="#6b6b6b" stroke-width="1.0"/>
<path d="M142.8 957.6V1011.5H202.0V1064.9H215.4V1088.5H222.9V1127.1H274.8V1148.8H300.5V1192.1H340.9V1227.8H345.7V1245.1H352.9V1268.0H392.3V1279.8H410.8V1279.8" fill="none" stroke="#b3b3b3" stroke-width="2.4" stroke-linejoin="miter" stroke-linecap="butt"/>
<line x1="146.6" y1="1008.9" x2="146.6" y2="1014.9" stroke="#b3b3b3" stroke-width="1.0"/>
<line x1="148.0" y1="1008.9" x2="148.0" y2="1014.9" stroke="#b3b3b3" stroke-width="1.0"/>
<line x1="151.5" y1="1008.9" x2="151.5" y2="1014.9" stroke="#b3b3b3" stroke-width="1.0"/>
<line x1="166.4" y1="1008.9" x2="166.4" y2="1014.9" stroke="#b3b3b3" stroke-width="1.0"/>
<line x1="175.1" y1="1008.9" x2="175.1" y2="1014.9" stroke="#b3b3b3" stroke-width="1.0"/>
<line x1="180.0" y1="1008.9" x2="180.0" y2="1014.9" stroke="#b3b3b3" stroke-width="1.0"/>
<line x1="185.0" y1="1008.9" x2="185.0" y2="1014.9" stroke="#b3b3b3" stroke-width="1.0"/>
<line x1="188.7" y1="1008.9" x2="188.7" y2="1014.9" stroke="#b3b3b3" stroke-width="1.0"/>
<line x1="203.6" y1="1062.3" x2="203.6" y2="1068.3" stroke="#b3b3b3" stroke-width="1.0"/>
<line x1="208.6" y1="1062.3" x2="208.6" y2="1068.3" stroke="#b3b3b3" stroke-width="1.0"/>
<line x1="212.3" y1="1062.3" x2="212.3" y2="1068.3" stroke="#b3b3b3" stroke-width="1.0"/>
<line x1="227.9" y1="1124.5" x2="227.9" y2="1130.5" stroke="#b3b3b3" stroke-width="1.0"/>
<line x1="233.5" y1="1124.5" x2="233.5" y2="1130.5" stroke="#b3b3b3" stroke-width="1.0"/>
<line x1="246.0" y1="1124.5" x2="246.0" y2="1130.5" stroke="#b3b3b3" stroke-width="1.0"/>
<line x1="248.8" y1="1124.5" x2="248.8" y2="1130.5" stroke="#b3b3b3" stroke-width="1.0"/>
<line x1="254.4" y1="1124.5" x2="254.4" y2="1130.5" stroke="#b3b3b3" stroke-width="1.0"/>
<line x1="257.2" y1="1124.5" x2="257.2" y2="1130.5" stroke="#b3b3b3" stroke-width="1.0"/>
<line x1="282.3" y1="1146.2" x2="282.3" y2="1152.2" stroke="#b3b3b3" stroke-width="1.0"/>
<line x1="286.5" y1="1146.2" x2="286.5" y2="1152.2" stroke="#b3b3b3" stroke-width="1.0"/>
<line x1="293.5" y1="1146.2" x2="293.5" y2="1152.2" stroke="#b3b3b3" stroke-width="1.0"/>
<line x1="306.1" y1="1189.5" x2="306.1" y2="1195.5" stroke="#b3b3b3" stroke-width="1.0"/>
<line x1="320.0" y1="1189.5" x2="320.0" y2="1195.5" stroke="#b3b3b3" stroke-width="1.0"/>
<line x1="325.6" y1="1189.5" x2="325.6" y2="1195.5" stroke="#b3b3b3" stroke-width="1.0"/>
<line x1="375.0" y1="1265.4" x2="375.0" y2="1271.4" stroke="#b3b3b3" stroke-width="1.0"/>
<path d="M87.2 956.3 V1282.9 H491.5" fill="none" stroke="#000" stroke-width="2.4" stroke-linecap="butt" stroke-linejoin="miter"/>
<line x1="81.6" y1="1280.0" x2="87.2" y2="1280.0" stroke="#000" stroke-width="2.4"/>
<text x="79.4" y="1288.9" class="tl" text-anchor="end">0.00</text>
<line x1="81.6" y1="1199.3" x2="87.2" y2="1199.3" stroke="#000" stroke-width="2.4"/>
<text x="79.4" y="1208.2" class="tl" text-anchor="end">0.25</text>
<line x1="81.6" y1="1118.7" x2="87.2" y2="1118.7" stroke="#000" stroke-width="2.4"/>
<text x="79.4" y="1127.6" class="tl" text-anchor="end">0.50</text>
<line x1="81.6" y1="1038.0" x2="87.2" y2="1038.0" stroke="#000" stroke-width="2.4"/>
<text x="79.4" y="1046.9" class="tl" text-anchor="end">0.75</text>
<line x1="81.6" y1="957.3" x2="87.2" y2="957.3" stroke="#000" stroke-width="2.4"/>
<text x="79.4" y="966.2" class="tl" text-anchor="end"> .00</text>
<line x1="87.2" y1="1282.9" x2="87.2" y2="1288.1" stroke="#000" stroke-width="2.4"/>
<text x="87.2" y="1307.5" class="tl" text-anchor="middle">0</text>
<line x1="183.6" y1="1282.9" x2="183.6" y2="1288.1" stroke="#000" stroke-width="2.4"/>
<text x="183.6" y="1307.5" class="tl" text-anchor="middle"> 000</text>
<line x1="279.9" y1="1282.9" x2="279.9" y2="1288.1" stroke="#000" stroke-width="2.4"/>
<text x="279.9" y="1307.5" class="tl" text-anchor="middle">2000</text>
<line x1="376.2" y1="1282.9" x2="376.2" y2="1288.1" stroke="#000" stroke-width="2.4"/>
<text x="376.2" y="1307.5" class="tl" text-anchor="middle">3000</text>
<line x1="472.6" y1="1282.9" x2="472.6" y2="1288.1" stroke="#000" stroke-width="2.4"/>
<text x="472.6" y="1307.5" class="tl" text-anchor="middle">4000</text>
<text x="290.5" y="1330.5" class="at" text-anchor="middle">Time (days)</text>
<text class="at" text-anchor="middle" transform="translate(28.0 1120.3) rotate(-90)">Survival</text>
<text class="pl" transform="translate(63.1 924.6) scale(1 1.07)">C</text>
<line x1="381.0" y1="964.5" x2="390.5" y2="964.5" stroke="#000" stroke-width="2.3"/>
<line x1="385.8" y1="962.5" x2="385.8" y2="968.0" stroke="#000" stroke-width="0.8" stroke-opacity="0.6"/>
<text x="401.6" y="971.5" class="lg">0min ≤ |24 - <tspan class="i">tau</tspan>| &lt; 42min</text>
<line x1="381.0" y1="992.8" x2="390.5" y2="992.8" stroke="#6b6b6b" stroke-width="2.3"/>
<line x1="385.8" y1="990.8" x2="385.8" y2="996.3" stroke="#6b6b6b" stroke-width="0.8" stroke-opacity="0.6"/>
<text x="401.6" y="999.8" class="lg">42min ≤ |24 - <tspan class="i">tau</tspan>| &lt;  h04min</text>
<line x1="381.0" y1="1021.1" x2="390.5" y2="1021.1" stroke="#b3b3b3" stroke-width="2.3"/>
<line x1="385.8" y1="1019.1" x2="385.8" y2="1024.6" stroke="#b3b3b3" stroke-width="0.8" stroke-opacity="0.6"/>
<text x="401.6" y="1028.1" class="lg"> h04min ≤ |24 - <tspan class="i">tau</tspan>|</text>
<path d="M478 0L478 1170L140 959L140 1180L493 1409L759 1409L759 0Z" fill="#000" transform="translate(31.53 61.20) scale(0.01123 -0.01123)"/>
<path d="M478 0L478 1170L140 959L140 1180L493 1409L759 1409L759 0Z" fill="#000" transform="translate(155.31 403.10) scale(0.01123 -0.01123)"/>
<path d="M515 0L515 1237L197 1010L197 1180L530 1409L696 1409L696 0Z" fill="#111" transform="translate(476.09 94.60) scale(0.00908 -0.00908)"/>
<path d="M515 0L515 1237L197 1010L197 1180L530 1409L696 1409L696 0Z" fill="#111" transform="translate(311.00 123.40) scale(0.00908 -0.00908)"/>
<path d="M478 0L478 1170L140 959L140 1180L493 1409L759 1409L759 0Z" fill="#000" transform="translate(31.53 512.20) scale(0.01123 -0.01123)"/>
<path d="M478 0L478 1170L140 959L140 1180L493 1409L759 1409L759 0Z" fill="#000" transform="translate(155.31 854.10) scale(0.01123 -0.01123)"/>
<path d="M515 0L515 1237L197 1010L197 1180L530 1409L696 1409L696 0Z" fill="#111" transform="translate(459.55 545.10) scale(0.00908 -0.00908)"/>
<path d="M515 0L515 1237L197 1010L197 1180L530 1409L696 1409L696 0Z" fill="#111" transform="translate(294.40 573.70) scale(0.00908 -0.00908)"/>
<path d="M478 0L478 1170L140 959L140 1180L493 1409L759 1409L759 0Z" fill="#000" transform="translate(34.63 966.20) scale(0.01123 -0.01123)"/>
<path d="M478 0L478 1170L140 959L140 1180L493 1409L759 1409L759 0Z" fill="#000" transform="translate(158.01 1307.50) scale(0.01123 -0.01123)"/>
<path d="M515 0L515 1237L197 1010L197 1180L530 1409L696 1409L696 0Z" fill="#111" transform="translate(566.69 999.80) scale(0.00908 -0.00908)"/>
<path d="M515 0L515 1237L197 1010L197 1180L530 1409L696 1409L696 0Z" fill="#111" transform="translate(401.60 1028.10) scale(0.00908 -0.00908)"/>
</svg>
</body></html>
